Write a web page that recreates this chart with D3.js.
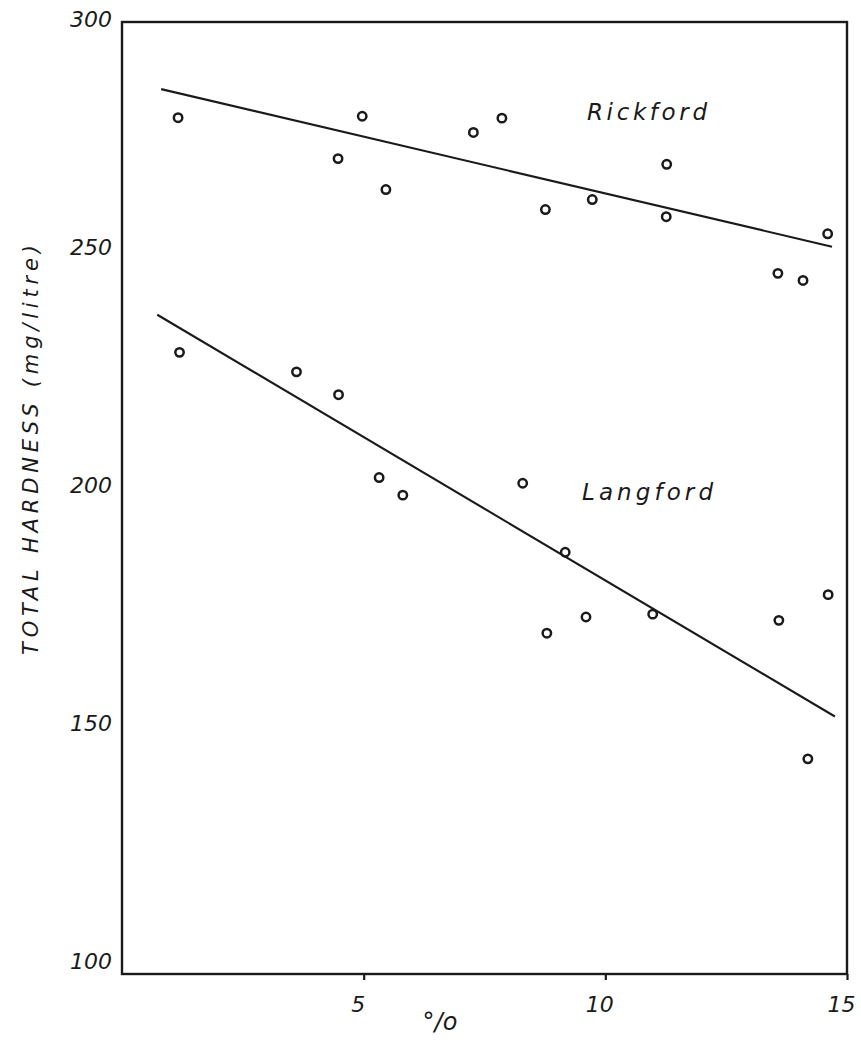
<!DOCTYPE html>
<html>
<head>
<meta charset="utf-8">
<script src="https://cdn.jsdelivr.net/npm/d3@7"></script>
<style>
  body { margin: 0; background: #ffffff; }
  text { font-family: "DejaVu Sans", sans-serif; font-style: italic; fill: #1a1a1a; }
</style>
</head>
<body>
<svg></svg>
<script>
// percent (x) vs total hardness mg/litre (y)
var rickfordX = [1.16, 4.47, 4.97, 5.46, 7.27, 7.86, 8.76, 9.73, 11.27, 11.26, 13.57, 14.09, 14.60];
var rickfordY = [279.9, 271.3, 280.2, 264.8, 276.8, 279.8, 260.6, 262.7, 270.1, 259.1, 247.2, 245.7, 255.5];
var langfordX = [1.19, 3.61, 4.48, 5.32, 5.81, 8.29, 9.17, 8.79, 9.60, 10.98, 13.59, 14.61, 14.19];
var langfordY = [230.6, 226.5, 221.7, 204.3, 200.6, 203.1, 188.6, 171.6, 175.0, 175.6, 174.3, 179.7, 145.2];

// fitted lines, end points
var rickfordLineX = [0.81, 14.69];
var rickfordLineY = [285.9, 252.8];
var langfordLineX = [0.73, 14.75];
var langfordLineY = [238.5, 154.1];

var xTicks = [5, 10, 15];
var yTicks = [100, 150, 200, 250, 300];

var svgWidth = 861, svgHeight = 1040;

var svg = d3.select("svg")
            .attr("width", svgWidth)
            .attr("height", svgHeight);

var x = d3.scaleLinear().domain([0, 15]).range([122, 847]);
var y = d3.scaleLinear().domain([100, 300]).range([974, 22]);

// frame
svg.append("rect")
   .attr("x", x(0))
   .attr("y", y(300))
   .attr("width", x(15) - x(0))
   .attr("height", y(100) - y(300))
   .attr("fill", "none")
   .attr("stroke", "#1a1a1a")
   .attr("stroke-width", 2.4);

// x axis ticks
var xAxis = svg.append("g")
               .attr("transform", "translate(0," + y(100) + ")")
               .call(d3.axisBottom(x).tickValues(xTicks).tickSize(6).tickPadding(16).tickFormat(d3.format("d")));
xAxis.select(".domain").remove();
xAxis.selectAll("line").attr("stroke", "#1a1a1a").attr("stroke-width", 2.2);
xAxis.selectAll("text")
     .attr("font-size", 22)
     .attr("dx", -6)
     .style("font-family", "DejaVu Sans, sans-serif")
     .style("font-style", "italic")
     .attr("fill", "#1a1a1a");

// y axis labels (no tick marks), hand lettered slightly above the level
var yAxis = svg.append("g")
               .attr("transform", "translate(" + x(0) + ",0)")
               .call(d3.axisLeft(y).tickValues(yTicks).tickSize(0).tickPadding(10).tickFormat(d3.format("d")));
yAxis.select(".domain").remove();
yAxis.selectAll("text")
     .attr("font-size", 22)
     .attr("transform", function(d) {return d === 300 ? "translate(0,-3)" : "translate(0,-13)";})
     .style("font-family", "DejaVu Sans, sans-serif")
     .style("font-style", "italic")
     .attr("fill", "#1a1a1a");

// regression lines
function drawLine(xs, ys) {
  svg.append("line")
     .attr("x1", x(xs[0])).attr("y1", y(ys[0]))
     .attr("x2", x(xs[1])).attr("y2", y(ys[1]))
     .attr("stroke", "#1a1a1a")
     .attr("stroke-width", 2.1);
}
drawLine(rickfordLineX, rickfordLineY);
drawLine(langfordLineX, langfordLineY);

// points
function drawPoints(xs, ys, cls) {
  svg.selectAll("circle." + cls)
     .data(d3.zip(xs, ys))
     .enter()
     .append("circle")
     .attr("class", cls)
     .attr("cx", function(d) {return x(d[0]);})
     .attr("cy", function(d) {return y(d[1]);})
     .attr("r", 4.2)
     .attr("fill", "none")
     .attr("stroke", "#1a1a1a")
     .attr("stroke-width", 2.5);
}
drawPoints(rickfordX, rickfordY, "rick");
drawPoints(langfordX, langfordY, "lang");

// series names
svg.append("text")
   .attr("x", 587).attr("y", 120)
   .attr("font-size", 23)
   .attr("textLength", 120)
   .attr("lengthAdjust", "spacing")
   .text("Rickford");

svg.append("text")
   .attr("x", 582).attr("y", 500)
   .attr("font-size", 23)
   .attr("textLength", 131)
   .attr("lengthAdjust", "spacing")
   .text("Langford");

// axis titles
svg.append("text")
   .attr("transform", "translate(38,450) rotate(-90)")
   .attr("text-anchor", "middle")
   .attr("font-size", 21)
   .attr("textLength", 410)
   .attr("lengthAdjust", "spacing")
   .text("TOTAL HARDNESS (mg/litre)");

svg.append("text")
   .attr("x", 440).attr("y", 1030)
   .attr("text-anchor", "middle")
   .attr("font-size", 24)
   .text("°/o");
</script>
</body>
</html>
